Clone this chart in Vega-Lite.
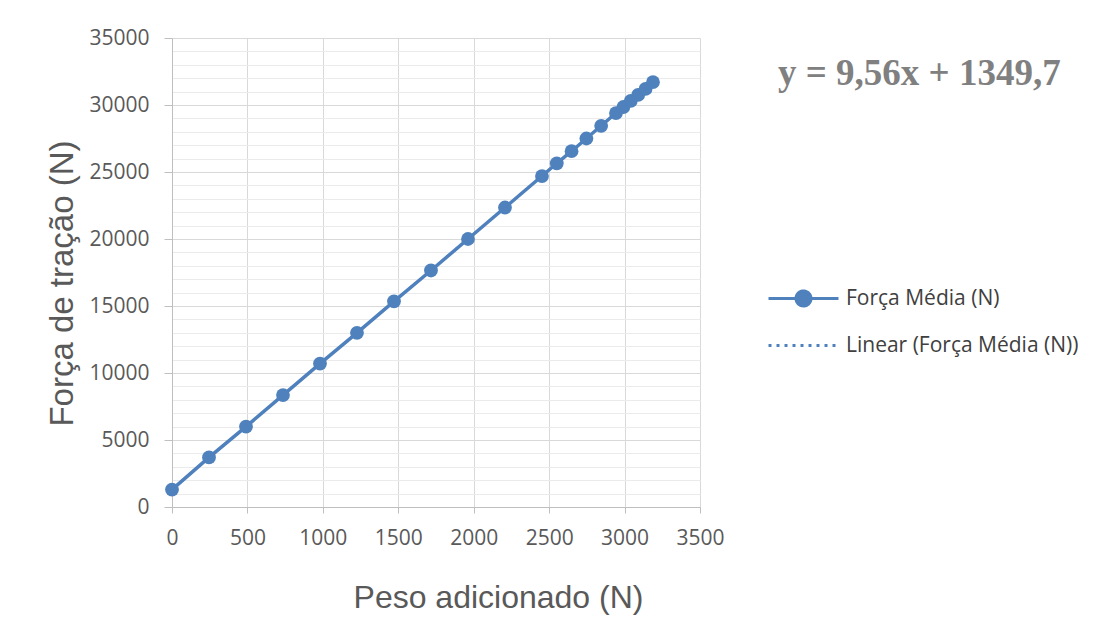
{
  "$schema": "https://vega.github.io/schema/vega-lite/v6.json",
  "width": 528,
  "height": 469,
  "autosize": {"type": "none"},
  "padding": {"left": 172, "top": 38, "right": 398, "bottom": 116},
  "background": "white",
  "view": {"stroke": null},
  "title": {
    "text": "y = 9,56x + 1349,7",
    "anchor": "start",
    "frame": "group",
    "orient": "top",
    "offset": 0,
    "baseline": "alphabetic",
    "dx": 606,
    "dy": 95,
    "font": "Liberation Serif",
    "fontWeight": "bold",
    "fontSize": 37,
    "color": "#808080"
  },
  "config": {
    "font": "Open Sans",
    "axis": {
      "domainColor": "#bfbfbf",
      "tickColor": "#bfbfbf",
      "labelColor": "#595959",
      "labelFont": "Open Sans",
      "labelFontSize": 21,
      "labelFlush": false,
      "labelOverlap": false,
      "titleColor": "#595959",
      "titleFont": "Liberation Sans",
      "titleFontSize": 32,
      "titleFontWeight": "normal",
      "gridColor": "#d9d9d9",
      "gridWidth": 1
    }
  },
  "data": {
    "values": [
      {"peso": 0, "forca": 1300, "serie": "Força Média (N)", "trend": "Linear (Força Média (N))"},
      {"peso": 245.25, "forca": 3700, "serie": "Força Média (N)", "trend": "Linear (Força Média (N))"},
      {"peso": 490.5, "forca": 6000, "serie": "Força Média (N)", "trend": "Linear (Força Média (N))"},
      {"peso": 735.75, "forca": 8350, "serie": "Força Média (N)", "trend": "Linear (Força Média (N))"},
      {"peso": 981, "forca": 10700, "serie": "Força Média (N)", "trend": "Linear (Força Média (N))"},
      {"peso": 1226.25, "forca": 13000, "serie": "Força Média (N)", "trend": "Linear (Força Média (N))"},
      {"peso": 1471.5, "forca": 15350, "serie": "Força Média (N)", "trend": "Linear (Força Média (N))"},
      {"peso": 1716.75, "forca": 17650, "serie": "Força Média (N)", "trend": "Linear (Força Média (N))"},
      {"peso": 1962, "forca": 20000, "serie": "Força Média (N)", "trend": "Linear (Força Média (N))"},
      {"peso": 2207.25, "forca": 22350, "serie": "Força Média (N)", "trend": "Linear (Força Média (N))"},
      {"peso": 2452.5, "forca": 24700, "serie": "Força Média (N)", "trend": "Linear (Força Média (N))"},
      {"peso": 2550.6, "forca": 25650, "serie": "Força Média (N)", "trend": "Linear (Força Média (N))"},
      {"peso": 2648.7, "forca": 26550, "serie": "Força Média (N)", "trend": "Linear (Força Média (N))"},
      {"peso": 2746.8, "forca": 27500, "serie": "Força Média (N)", "trend": "Linear (Força Média (N))"},
      {"peso": 2844.9, "forca": 28450, "serie": "Força Média (N)", "trend": "Linear (Força Média (N))"},
      {"peso": 2943, "forca": 29400, "serie": "Força Média (N)", "trend": "Linear (Força Média (N))"},
      {"peso": 2992.05, "forca": 29850, "serie": "Força Média (N)", "trend": "Linear (Força Média (N))"},
      {"peso": 3041.1, "forca": 30300, "serie": "Força Média (N)", "trend": "Linear (Força Média (N))"},
      {"peso": 3090.15, "forca": 30750, "serie": "Força Média (N)", "trend": "Linear (Força Média (N))"},
      {"peso": 3139.2, "forca": 31200, "serie": "Força Média (N)", "trend": "Linear (Força Média (N))"},
      {"peso": 3188.25, "forca": 31700, "serie": "Força Média (N)", "trend": "Linear (Força Média (N))"}
    ]
  },
  "resolve": {"axis": {"y": "independent"}},
  "layer": [
    {
      "mark": {"type": "line", "strokeWidth": 3.5},
      "encoding": {
        "x": {
          "field": "peso", "type": "quantitative",
          "scale": {"domain": [0, 3500], "nice": false, "zero": false},
          "axis": {
            "values": [0, 500, 1000, 1500, 2000, 2500, 3000, 3500],
            "format": "d",
            "title": "Peso adicionado (N)",
            "tickSize": 6,
            "labelPadding": 14,
            "titleX": 326,
            "titleY": 90,
            "titleBaseline": "middle",
            "titleAlign": "center"
          }
        },
        "y": {
          "field": "forca", "type": "quantitative",
          "scale": {"domain": [0, 35000], "nice": false, "zero": false},
          "axis": {
            "values": [0, 5000, 10000, 15000, 20000, 25000, 30000, 35000],
            "format": "d",
            "title": "Força de tração (N)",
            "titleFontSize": 33,
            "tickSize": 8,
            "labelPadding": 15,
            "titleX": -110,
            "titleY": 245,
            "titleBaseline": "middle",
            "titleAlign": "center",
            "titleAngle": -90
          }
        },
        "color": {
          "field": "serie", "type": "nominal",
          "scale": {"domain": ["Força Média (N)", "Linear (Força Média (N))"], "range": ["#4f81bd", "#4f81bd"]},
          "legend": {
            "title": null,
            "orient": "none",
            "legendX": 615,
            "legendY": 244,
            "padding": 0,
            "symbolSize": 900,
            "labelOffset": 26,
            "rowPadding": 17,
            "labelFont": "Open Sans",
            "labelFontSize": 21,
            "labelColor": "#404040",
            "labelLimit": 400,
            "symbolStrokeWidth": 3,
            "encode": {
              "symbols": {
                "update": {
                  "shape": {"signal": "datum.value === 'Força Média (N)' ? 'M-2.333,0L2.333,0M0.5,0A0.5,0.5,0,1,1,-0.5,0A0.5,0.5,0,1,1,0.5,0Z' : 'M-2.333,0L2.333,0'"},
                  "fill": {"signal": "datum.value === 'Força Média (N)' ? '#4f81bd' : 'transparent'"},
                  "stroke": {"value": "#4f81bd"},
                  "strokeDash": {"signal": "datum.value === 'Força Média (N)' ? [1, 0] : [3, 5]"},
                  "strokeWidth": {"value": 3}
                }
              }
            }
          }
        }
      }
    },
    {
      "mark": {"type": "point", "filled": true, "size": 190, "color": "#4f81bd", "opacity": 1},
      "encoding": {
        "x": {"field": "peso", "type": "quantitative"},
        "y": {
          "field": "forca", "type": "quantitative",
          "axis": {
            "values": [1000, 2000, 3000, 4000, 6000, 7000, 8000, 9000, 11000, 12000, 13000, 14000, 16000, 17000, 18000, 19000, 21000, 22000, 23000, 24000, 26000, 27000, 28000, 29000, 31000, 32000, 33000, 34000],
            "grid": true,
            "labels": false, "ticks": false, "domain": false, "title": null,
            "gridColor": "#ebebeb", "gridWidth": 1
          }
        }
      }
    },
    {
      "transform": [{"regression": "forca", "on": "peso", "groupby": ["trend"]}],
      "mark": {"type": "line", "strokeWidth": 2, "strokeDash": [2, 4]},
      "encoding": {
        "x": {"field": "peso", "type": "quantitative"},
        "y": {"field": "forca", "type": "quantitative", "axis": null},
        "color": {"field": "trend", "type": "nominal"}
      }
    }
  ]
}
